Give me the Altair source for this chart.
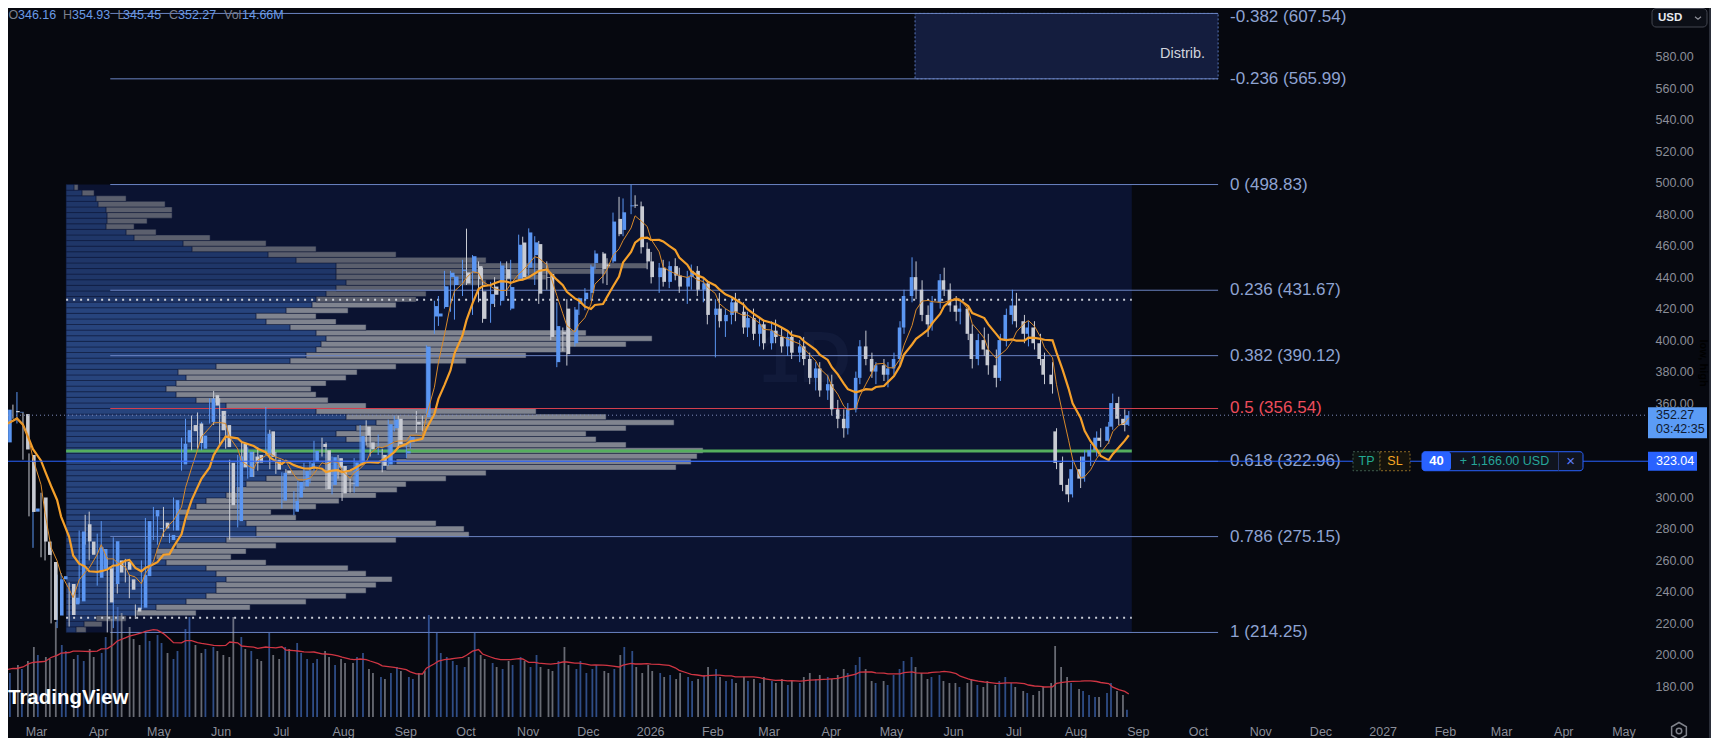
import altair as alt
import numpy as np
import pandas as pd

FONT = "Liberation Sans"
BG = "#06080f"
BOXC = "#0b1331"
UPC = "#5b96f2"
DNC = "#c8cbd3"
AXC = "#8b8e99"

# ---------------- candles: 2-trading-day bars ----------------
open_ = [
    345.8, 335, 355, 354, 353, 327, 291,
    300, 272, 259, 225, 248, 245, 232, 234, 283, 272, 249,
    254.6, 255, 245, 260, 259, 248, 230, 230, 250, 288, 280,
    284, 273, 279, 321, 335, 346, 347, 331, 348, 365, 355,
    346, 322, 285, 334, 313, 326, 327, 327, 342, 324,
    298, 317, 291, 300, 307, 319, 323, 334, 330, 308, 325, 320,
    309, 307, 321, 345, 335, 329, 327, 321, 344, 350,
    328, 335, 348, 348, 351, 415, 415, 421, 440, 435, 444,
    443, 443, 447, 431, 423, 434, 425, 445, 420, 439, 462, 446,
    454, 461, 440, 442, 386, 405, 420, 398, 423, 426,
    430, 449, 455, 448, 450, 477, 470, 485, 486, 485, 458,
    450, 440, 446, 437, 447, 441, 434, 440, 444, 432, 436,
    416, 420, 412, 416, 424, 418, 408, 414, 404, 410,
    398, 406, 402, 396, 402, 392, 396, 388, 376, 382, 368,
    372, 356, 350, 344, 356, 376, 396, 388, 380, 384, 378,
    382, 388, 408, 428, 440, 432, 416, 410, 424, 438, 432,
    422, 418, 420, 404, 388, 400, 394, 384, 376, 400, 416,
    422, 412, 404, 408, 398, 388, 378, 342, 322, 308, 302,
    318, 312, 326, 330, 338, 336, 345, 360, 350, 346.16,
]
high = [
    349, 359, 359, 367, 354, 328, 297,
    303, 280, 266, 251, 252, 246, 243, 279, 289, 291, 277,
    285, 262, 274.7, 262, 261, 251, 232, 260, 287, 294, 290,
    294, 277, 300, 338, 350, 352, 354, 348, 363, 367.7, 363,
    355, 324, 327, 335, 332, 329, 332, 357.5, 343, 329,
    316, 318, 304, 310.5, 322, 323, 336, 338, 335, 326, 327, 324.5,
    312, 325, 346, 349, 340, 340, 331, 349.5, 352, 352,
    334, 339, 355, 352, 396.7, 425, 428, 444, 444, 441, 451,
    470.8, 454, 450, 446, 437, 440, 450, 450, 451, 467, 465.7, 471,
    466, 463, 450, 442.5, 424, 408, 426, 421, 427, 433,
    448, 457, 456, 452, 481, 491, 490, 498.83, 492, 488, 462,
    456, 449, 451, 450, 452, 446, 444, 448, 447, 440, 438,
    426, 430, 420, 428, 430, 424, 418, 420, 414, 413,
    412, 413, 408, 406, 406, 400, 402, 392, 386, 386, 378,
    378, 362, 356, 360, 380, 400, 406, 392, 386, 388, 386,
    392, 412, 432, 452.6, 450, 438, 422, 428, 442, 446, 436,
    428, 424, 422, 410, 404, 408, 404, 394, 404, 420, 432,
    430, 416, 412, 412, 404, 392, 386, 344, 326, 312, 324,
    326, 330, 334, 342, 344, 348, 366, 364, 356, 354.93,
]
low = [
    325, 332, 350, 347, 324, 288, 268,
    262, 260, 220, 217, 232, 218, 230, 233, 270, 260, 244,
    254, 214.25, 217, 239, 246, 236, 222.8, 229, 247, 273, 270,
    275, 271, 279, 317, 331, 330, 331, 330, 347, 346, 333,
    331, 273.2, 281, 311, 312, 313, 317, 327, 318, 315,
    293, 312, 288.8, 291, 305, 309, 317, 326, 305, 302, 312, 297.8,
    303, 303, 321, 333, 326, 327, 316, 320, 342, 331,
    325, 331, 341, 342, 349, 404, 409, 420, 418, 413, 428,
    435, 416, 424, 411, 411, 421, 422, 428, 419, 438, 438, 441,
    435, 423, 432, 400, 382.8, 393, 383.8, 396, 416, 419,
    425, 445, 436, 435, 449, 466, 466, 480, 484, 455, 445,
    436, 430, 434, 433, 438, 430, 423, 432, 428, 424, 410,
    389, 408, 402, 410, 412, 404, 402, 400, 396, 394,
    394, 398, 392, 390, 388, 386, 384, 372, 368, 364, 362,
    352, 344, 338, 340, 354, 372, 384, 376, 372, 374, 370,
    378, 384, 404, 424, 426, 412, 402, 406, 420, 428, 418,
    412, 410, 400, 382, 384, 390, 378, 370, 374, 396, 410,
    408, 398, 396, 394, 384, 372, 366, 318, 304, 297, 300,
    306, 310, 320, 326, 332, 334, 343, 346, 342, 345.45,
]
close = [
    336.5, 355.8, 354.1, 354.4, 330.5, 290.8, 293.0,
    272, 263.5, 222.2, 248, 250, 225.3, 236.3, 278.4, 272.1, 263.6, 268.5,
    267.3, 233.3, 272.2, 252.3, 254.1, 241.4, 227.5, 250.7, 285, 292, 280.5,
    280.3, 276.2, 298.3, 334.1, 342.8, 342.1, 334.6, 339.3, 362.9, 358.4, 342.7,
    332, 295.1, 326.1, 319.1, 329.1, 322.1, 322.2, 340.5, 325.8, 317.7,
    315.7, 315.4, 297.8, 309.9, 316.9, 321.7, 329.7, 332.1, 305.3, 325.6, 319.0, 302.6,
    308.7, 322.3, 339, 339.4, 330.6, 329.3, 320.1, 346.6, 349.6, 333.9,
    329.4, 338.5, 346.4, 347.8, 395.9, 421.6, 416.9, 434.2, 442.8, 440.4, 444.7,
    436, 453.3, 438.7, 413.5, 429.2, 428.8, 447.4, 439, 433.7, 460.6, 440.1, 468.4,
    462.1, 429.5, 439.6, 402, 408.9, 404, 391.1, 419.4, 426.6, 430.1,
    446.7, 455, 445.2, 446.9, 475.3, 467.3, 481.2, 485.6, 485.4, 459, 450,
    440, 446, 437, 447, 441, 434, 440, 444, 432, 436, 416,
    420, 412, 416, 424, 418, 408, 414, 404, 410, 398,
    406, 402, 396, 402, 392, 396, 388, 376, 382, 368, 372,
    356, 350, 344, 356, 376, 396, 388, 380, 384, 378, 382,
    388, 408, 428, 440, 432, 416, 410, 424, 438, 432, 422,
    418, 420, 404, 388, 400, 394, 384, 376, 400, 416, 422,
    412, 404, 408, 398, 388, 378, 372, 322, 308, 302, 318,
    312, 326, 330, 338, 336, 345, 360, 350, 346, 352.27,
]
volume = [  # millions
    100, 88, 104, 96, 112, 140, 124,
    120, 116, 190, 144, 132, 116, 124, 112, 136, 120, 128,
    160, 196, 220, 208, 180, 156, 144, 168, 152, 164, 148,
    128, 116, 132, 176, 200, 144, 128, 136, 140, 132, 124,
    120, 200, 160, 136, 132, 116, 112, 168, 124, 116,
    140, 136, 148, 128, 116, 108, 116, 132, 120, 104, 116, 108,
    108, 120, 128, 96, 88, 80, 76, 88, 100, 92,
    80, 76, 88, 92, 204, 168, 128, 120, 112, 104, 100,
    120, 168, 124, 116, 108, 100, 96, 112, 104, 120, 112, 100,
    124, 100, 96, 92, 112, 140, 104, 96, 112, 88,
    96, 104, 92, 88, 96, 124, 140, 132, 100, 88, 104,
    92, 88, 80, 84, 76, 88, 80, 72, 76, 84, 100,
    96, 80, 72, 76, 68, 80, 72, 76, 68, 80,
    72, 68, 76, 64, 72, 68, 80, 88, 76, 84, 80,
    76, 84, 96, 88, 104, 120, 96, 72, 68, 72, 64,
    84, 96, 112, 120, 100, 88, 76, 80, 84, 72, 68,
    68, 60, 68, 76, 64, 60, 72, 64, 72, 80, 68,
    60, 52, 48, 44, 52, 60, 68, 142, 100, 80, 68,
    56, 52, 44, 40, 40, 48, 68, 52, 44, 14.66,
]

# ---------------- volume profile (rows from 214.25 to 498.83) ----------------
vp_low, vp_high = 214.25, 498.83
vp_up = [10, 18, 30, 70, 90, 120, 140, 150, 150, 160,
         150, 140, 100, 90, 90, 110, 160, 190, 190, 180,
         120, 110, 130, 140, 160, 170, 180, 200, 220, 320,
         330, 340, 340, 300, 280, 270, 290, 310, 280, 250,
         160, 130, 110, 100, 110, 120, 112, 150, 224, 240,
         250, 255, 260, 250, 224, 200, 190, 220, 246, 250,
         260, 270, 280, 270, 270, 270, 230, 202, 126, 117,
         68, 60, 40, 41, 41, 40, 32, 30, 16, 8]
vp_down = [10, 18, 30, 60, 94, 120, 140, 150, 160, 166,
           150, 142, 100, 75, 90, 100, 170, 213, 208, 190,
           110, 95, 120, 133, 150, 161, 160, 180, 200, 290,
           295, 291, 297, 260, 250, 250, 270, 298, 260, 220,
           140, 132, 140, 145, 150, 160, 179, 180, 176, 220,
           250, 305, 326, 270, 76, 70, 60, 62, 84, 100,
           100, 110, 140, 210, 270, 311, 190, 128, 124, 83,
           76, 30, 28, 40, 65, 66, 67, 30, 12, 4]
val_price, vah_price, poc_price = 223.6, 425.7, 329.5

# ---------------- fibonacci ----------------
fib_levels = ["-0.382", "-0.236", "0", "0.236", "0.382", "0.5", "0.618", "0.786", "1"]
fib_prices = [607.54, 565.99, 498.83, 431.67, 390.12, 356.54, 322.96, 275.15, 214.25]
fib_start = pd.Timestamp("2025-04-07")
fib_end = pd.Timestamp("2026-10-11")
dist_start = pd.Timestamp("2026-05-13")
vp_start = pd.Timestamp("2025-03-16")
vp_end = pd.Timestamp("2026-08-29")

last_price = 352.27
pos_price = 323.04
countdown = "03:42:35"
pnl_text = "+ 1,166.00 USD"
qty_text = "40"
price_ticks = [180, 200, 220, 240, 260, 280, 300, 360, 380, 400, 420,
               440, 460, 480, 500, 520, 540, 560, 580]

# ---------------- frames & scales ----------------
N = len(close)
bd = pd.bdate_range("2025-02-11", periods=2 * N)
dates = bd[0::2] + (bd[1::2] - bd[0::2]) / 2
df = pd.DataFrame({"date": dates, "open": open_, "high": high, "low": low,
                   "close": close, "volume": volume})
is_up = df["close"] >= df["open"]
df["cc"] = np.where(is_up, UPC, DNC)
df["vc"] = np.where(is_up, "#4b7bd6", "#a9acb6")

W, H = 1637, 709
T0 = pd.Timestamp("2025-02-15 01:00")
T1 = pd.Timestamp("2027-05-11 17:00")


def dt(t):
    return alt.DateTime(year=t.year, month=t.month, date=t.day, hours=t.hour)


XS = alt.Scale(domain=[dt(T0), dt(T1)], nice=False)
P_HI = 611.0
PX_PER = 1.5739
P_LO = P_HI - H / PX_PER
PPX = 1 / PX_PER
YS = alt.Scale(domain=[P_LO, P_HI], nice=False, zero=False)
VS = alt.Scale(domain=[0, H * 2], nice=False, zero=True)
px0 = (vp_start - T0) / (T1 - T0) * W
VPX = alt.Scale(domain=[-px0, W - px0], nice=False, zero=False)


def xt(f):
    return alt.X(f, type="temporal", scale=XS, axis=None)


def yp(f):
    return alt.Y(f, type="quantitative", scale=YS, axis=None)


def txt(s, x, y, color, size, align="left", weight="normal", baseline="middle", dy=0):
    d = pd.DataFrame({"t": [s]})
    return alt.Chart(d).mark_text(align=align, baseline=baseline, font=FONT, fontSize=size,
                                  fontWeight=weight, color=color, dy=dy).encode(
        x=alt.value(x), y=alt.value(y), text="t:N")


def rect_px(x1, x2, y1, y2, fill, stroke=None, dash=None, sw=1, radius=0):
    kw = {"fill": fill}
    if radius:
        kw["cornerRadius"] = radius
    if stroke:
        kw["stroke"] = stroke
        kw["strokeWidth"] = sw
    if dash:
        kw["strokeDash"] = dash
    return alt.Chart(pd.DataFrame({"a": [0]})).mark_rect(**kw).encode(
        x=alt.value(x1), x2=alt.value(x2), y=alt.value(y1), y2=alt.value(y2))


def rect_p(x1, x2, pc, up_px, dn_px, fill, stroke=None, dash=None, sw=1, radius=0):
    kw = {"fill": fill}
    if radius:
        kw["cornerRadius"] = radius
    if stroke:
        kw["stroke"] = stroke
        kw["strokeWidth"] = sw
    if dash:
        kw["strokeDash"] = dash
    d = pd.DataFrame({"a": [pc + up_px * PPX], "b": [pc - dn_px * PPX]})
    return alt.Chart(d).mark_rect(**kw).encode(
        x=alt.value(x1), x2=alt.value(x2), y=yp("a"), y2="b:Q")


def text_p(s, x, pc, color, size, align="left", weight="normal", dy=0):
    d = pd.DataFrame({"p": [pc], "t": [s]})
    return alt.Chart(d).mark_text(align=align, baseline="middle", font=FONT, fontSize=size,
                                  fontWeight=weight, color=color, dy=dy).encode(
        x=alt.value(x), y=yp("p"), text="t:N")


L = []

# volume-profile range box
box_df = pd.DataFrame({"x1": [vp_start], "x2": [vp_end], "y1": [vp_low], "y2": [vp_high]})
L.append(alt.Chart(box_df).mark_rect(color=BOXC).encode(
    x=xt("x1"), x2="x2:T", y=yp("y1"), y2="y2:Q"))

# watermark
L.append(txt("1D", 797, 352, "#111a3a", 72, align="center", weight="bold"))

# volume profile rows
nrow = len(vp_up)
step = (vp_high - vp_low) / nrow
vp = pd.DataFrame({"lo": vp_low + np.arange(nrow) * step, "up": vp_up, "down": vp_down})
vp["hi"] = vp["lo"] + step
vp["x0"] = 0.0
vp["x1"] = vp["up"]
vp["x2"] = vp["up"] + vp["down"]
mid = vp["lo"] + step / 2
in_va = (mid >= val_price) & (mid <= vah_price)
vp["cu"] = np.where(in_va, "#27447d", "#1f3668")
vp["cd"] = np.where(in_va, "#80848f", "#5b5f6d")
L.append(alt.Chart(vp).mark_rect(stroke="#0e1838", strokeWidth=0.5).encode(
    x=alt.X("x0:Q", scale=VPX, axis=None), x2="x1:Q", y=yp("lo"), y2="hi:Q",
    color=alt.Color("cu:N", scale=None)))
L.append(alt.Chart(vp).mark_rect(stroke="#0e1838", strokeWidth=0.5).encode(
    x=alt.X("x1:Q", scale=VPX, axis=None), x2="x2:Q", y=yp("lo"), y2="hi:Q",
    color=alt.Color("cd:N", scale=None)))

# distribution box
dist_df = pd.DataFrame({"x1": [dist_start], "x2": [fib_end],
                        "y1": [fib_prices[1]], "y2": [fib_prices[0]],
                        "ty": [fib_prices[1] + 0.38 * (fib_prices[0] - fib_prices[1])],
                        "t": ["Distrib."]})
L.append(alt.Chart(dist_df).mark_rect(fill="#141d3e", stroke="#5a77bd", strokeDash=[2, 2],
                                      strokeWidth=1).encode(
    x=xt("x1"), x2="x2:T", y=yp("y1"), y2="y2:Q"))
L.append(alt.Chart(dist_df).mark_text(align="right", baseline="middle", dx=-13, font=FONT,
                                      fontSize=14.5, color="#d1d4dc").encode(
    x=xt("x2"), y=yp("ty"), text="t:N"))

# fib lines + labels
fib_df = pd.DataFrame({"level": fib_levels, "price": fib_prices})
fib_df["label"] = [f"{l} ({p:.2f})" for l, p in zip(fib_levels, fib_prices)]
fib_df["start"] = fib_start
fib_df["end"] = fib_end
fib_df["lc"] = np.where(fib_df["level"] == "0.5", "#d6404e", "#6a83c2")
fib_df["tc"] = np.where(fib_df["level"] == "0.5", "#ee4d5c", "#8ea3d2")
L.append(alt.Chart(fib_df).mark_rule(strokeWidth=1).encode(
    x=xt("start"), x2="end:T", y=yp("price"), color=alt.Color("lc:N", scale=None)))
top_lbl = fib_df.iloc[:1]
rest_lbl = fib_df.iloc[1:]
L.append(alt.Chart(rest_lbl).mark_text(align="left", baseline="middle", dx=12, font=FONT,
                                       fontSize=17).encode(
    x=xt("end"), y=yp("price"), text="label:N", color=alt.Color("tc:N", scale=None)))
L.append(alt.Chart(top_lbl).mark_text(align="left", baseline="middle", dx=12, dy=4, font=FONT,
                                      fontSize=17).encode(
    x=xt("end"), y=yp("price"), text="label:N", color=alt.Color("tc:N", scale=None)))

# value area high / low and POC
va_df = pd.DataFrame({"p": [vah_price, val_price], "s": [vp_start] * 2, "e": [vp_end] * 2})
L.append(alt.Chart(va_df).mark_rule(color="#c9cdd6", strokeDash=[2, 5], strokeWidth=2).encode(
    x=xt("s"), x2="e:T", y=yp("p")))
poc_df = pd.DataFrame({"p": [poc_price], "s": [vp_start], "e": [vp_end]})
L.append(alt.Chart(poc_df).mark_rule(color="#55ae5e", strokeWidth=3).encode(
    x=xt("s"), x2="e:T", y=yp("p")))

# volume + its moving average
L.append(alt.Chart(df).mark_bar(size=1.8, opacity=0.6).encode(
    x=xt("date"), y=alt.Y("volume:Q", scale=VS, axis=None), color=alt.Color("vc:N", scale=None)))
L.append(alt.Chart(df).transform_window(vma="mean(volume)", frame=[-9, 0]).mark_line(
    color="#cf3543", strokeWidth=1.3).encode(
    x=xt("date"), y=alt.Y("vma:Q", scale=VS, axis=None)))

time_axis = alt.Axis(orient="bottom", tickCount={"interval": "month", "step": 1},
                     labelExpr="month(datum.value) == 0 ? timeFormat(datum.value, '%Y') : timeFormat(datum.value, '%b')",
                     domain=False, ticks=False, grid=False, labelColor=AXC, labelFont=FONT,
                     labelFontSize=12.5, labelPadding=8, labelFlush=False, labelOverlap=False,
                     labelBound=False)
price_axis = alt.Axis(orient="right", values=price_ticks, format=".2f",
                      domain=False, ticks=False, grid=False, labelColor=AXC, labelFont=FONT,
                      labelFontSize=12.5, labelPadding=10, labelAlign="left",
                      labelBaseline="middle", labelOverlap=False, labelFlush=False)

# candles
L.append(alt.Chart(df).mark_rule(strokeWidth=1).encode(
    x=alt.X("date:T", scale=XS, axis=time_axis),
    y=alt.Y("low:Q", scale=YS, axis=price_axis), y2="high:Q",
    color=alt.Color("cc:N", scale=None)))
L.append(alt.Chart(df).mark_bar(size=3.6).encode(
    x=xt("date"), y=yp("open"), y2="close:Q", color=alt.Color("cc:N", scale=None)))

# moving averages
L.append(alt.Chart(df).transform_window(ma_s="mean(close)", frame=[-9, 0]).mark_line(
    color="#f5a02a", strokeWidth=2.2).encode(x=xt("date"), y=yp("ma_s")))
L.append(alt.Chart(df).transform_window(ma_f="mean(close)", frame=[-4, 0]).mark_line(
    color="#d98a2a", strokeWidth=1).encode(x=xt("date"), y=yp("ma_f")))

# current price line and position line
L.append(alt.Chart(pd.DataFrame({"p": [last_price]})).mark_rule(
    color="#7d8cbc", strokeDash=[1, 3], strokeWidth=1).encode(
    x=alt.value(0), x2=alt.value(1640), y=yp("p")))
L.append(alt.Chart(pd.DataFrame({"p": [pos_price]})).mark_rule(
    color="#2962ff", strokeWidth=1).encode(
    x=alt.value(0), x2=alt.value(1640), y=yp("p")))

# position widget
L.append(rect_p(1345, 1372, pos_price, 9.5, 9.5, "#0d1512", stroke="#3e5a4e", dash=[2, 2]))
L.append(rect_p(1372, 1402, pos_price, 9.5, 9.5, "#15130c", stroke="#8c6a26", dash=[2, 2]))
L.append(text_p("TP", 1358.5, pos_price, "#22ab94", 12.5, align="center"))
L.append(text_p("SL", 1387, pos_price, "#f5a623", 12.5, align="center"))
L.append(rect_p(1414, 1575, pos_price, 9.5, 9.5, "#10141f", stroke="#2962ff", radius=3))
L.append(rect_p(1414, 1443, pos_price, 9.5, 9.5, "#2962ff", radius=3))
L.append(rect_p(1550, 1551, pos_price, 9.5, 9.5, "#2a3a70"))
L.append(text_p(qty_text, 1428.5, pos_price, "#ffffff", 13, align="center", weight="bold"))
L.append(text_p(pnl_text, 1496.5, pos_price, "#26a69a", 12.5, align="center"))
L.append(text_p("\u00d7", 1562.5, pos_price, "#5d7cf7", 15, align="center"))

# price-axis labels
L.append(rect_p(1640, 1699, last_price, 8, 23, "#5b9cf6"))
L.append(text_p(f"{last_price:.2f}", 1648, last_price, "#0f1a30", 12.5))
L.append(text_p(countdown, 1648, last_price, "#0f1a30", 12.5, dy=14))
L.append(rect_p(1640, 1689, pos_price, 9.5, 9.5, "#2962ff"))
L.append(text_p(f"{pos_price:.2f}", 1648, pos_price, "#ffffff", 12.5))

# header OHLC
GR, BL = "#7b7f8b", "#6b9be6"
hdr = [("O", 0.5, GR), (f"{open_[-1]:.2f}", 10, BL), ("H", 55, GR), (f"{high[-1]:.2f}", 64, BL),
       ("L", 109.5, GR), (f"{low[-1]:.2f}", 115, BL), ("C", 161, GR), (f"{close[-1]:.2f}", 170, BL),
       ("Vol", 216, GR), (f"{volume[-1]:.2f}M", 234, BL)]
for s, x, c in hdr:
    L.append(txt(s, x, 7, c, 12.5))

# chrome: USD button, logo, gear, border
L.append(rect_px(1644, 1699, 0.5, 19, "#0c0f17", stroke="#434651", radius=4))
L.append(txt("USD", 1650, 10, "#e8eaf0", 11.5, weight="bold"))
L.append(alt.Chart(pd.DataFrame({"a": [0]})).mark_point(
    shape="M-1,-0.4L0,0.4L1,-0.4", size=36, filled=False, color="#c8cad3", strokeWidth=1.2).encode(
    x=alt.value(1690), y=alt.value(10)))
L.append(txt("TradingView", 0, 690, "#ffffff", 20.5, weight="bold"))
L.append(alt.Chart(pd.DataFrame({"a": [0]})).mark_point(
    shape="M0,-1L0.866,-0.5L0.866,0.5L0,1L-0.866,0.5L-0.866,-0.5Z", size=290, filled=False,
    color="#b2b5be", strokeWidth=1.5).encode(x=alt.value(1671), y=alt.value(723)))
L.append(alt.Chart(pd.DataFrame({"a": [0]})).mark_point(
    shape="circle", size=30, filled=False, color="#b2b5be", strokeWidth=1.5).encode(
    x=alt.value(1671), y=alt.value(723)))
L.append(rect_px(1701, 1703, 0, 730, "#2a2e39"))

chart = alt.layer(*L).resolve_scale(x="independent", y="independent").properties(
    width=W, height=H, background=BG,
    padding={"left": 0, "top": 0, "right": 66, "bottom": 21},
    autosize=alt.AutoSizeParams(type="none"),
).configure_view(stroke=None)

chart.save("out.html", embed_options={"renderer": "svg", "actions": False})
